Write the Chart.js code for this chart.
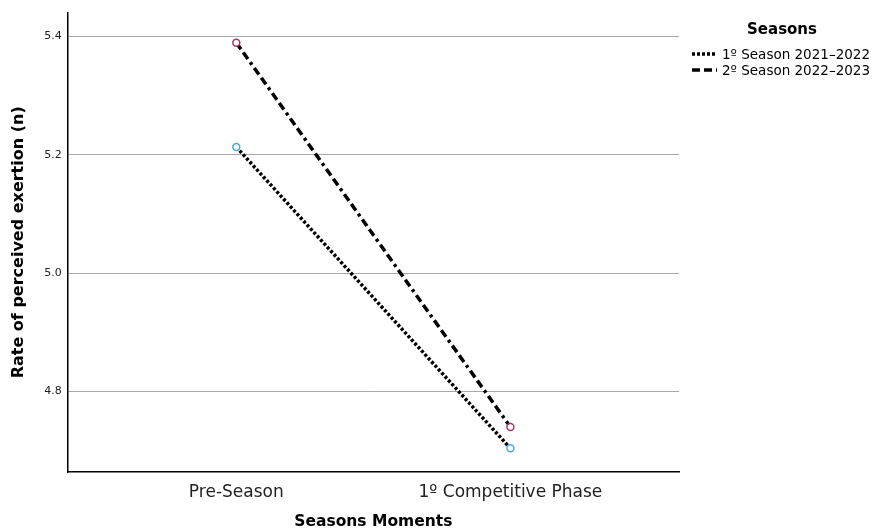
<!DOCTYPE html>
<html>
<head>
<meta charset="utf-8">
<script src="https://cdn.jsdelivr.net/npm/chart.js@4/dist/chart.umd.min.js"></script>
<style>
  html, body { margin: 0; padding: 0; background: #fff; }
  #wrap { width: 874px; height: 531px; position: relative; }
</style>
</head>
<body>
<div id="wrap"><canvas id="canvas_line_graph"></canvas></div>
<script>
var moments = ['Pre-Season', '1\u00ba Competitive Phase'];
var season1 = [5.213, 4.704];
var season2 = [5.389, 4.740];
var seasonNames = ['1\u00ba Season 2021\u20132022', '2\u00ba Season 2022\u20132023'];
var yTicks = [4.8, 5.0, 5.2, 5.4];
var legendTitle = 'Seasons';

var FONT = "'DejaVu Sans', sans-serif";

function toPoints(arr) {
    return arr.map(function (v, i) { return { x: i, y: v }; });
}

// legend drawn next to the plot, SPSS style (title + line samples)
var sideLegend = {
    id: 'sideLegend',
    afterDraw: function (chart) {
        var c = chart.ctx;
        var left = chart.chartArea.right + 13;
        c.save();
        c.fillStyle = '#000';
        c.textAlign = 'center';
        c.textBaseline = 'middle';
        c.font = 'bold 15px ' + FONT;
        c.fillText(legendTitle, 782, 30);
        c.textAlign = 'left';
        c.font = '13.5px ' + FONT;
        chart.data.datasets.forEach(function (ds, i) {
            var y = 54 + i * 16;
            c.strokeStyle = ds.borderColor;
            c.lineWidth = ds.borderWidth;
            c.setLineDash(ds.borderDash);
            c.beginPath();
            c.moveTo(left, y);
            c.lineTo(left + 25, y);
            c.stroke();
            c.setLineDash([]);
            c.fillText(ds.label, left + 30, y + 1);
        });
        c.restore();
    }
};

var ctx = document.getElementById('canvas_line_graph').getContext('2d');
var myChart = new Chart(ctx, {
    type: 'line',
    data: {
        datasets: [{
            label: seasonNames[0],
            data: toPoints(season1),
            borderColor: '#000',
            borderWidth: 3.5,
            borderDash: [3, 2],
            pointRadius: 3.5,
            pointBorderWidth: 1.5,
            pointBorderColor: '#4ba9e6',
            pointBackgroundColor: '#fff',
            fill: false
        }, {
            label: seasonNames[1],
            data: toPoints(season2),
            borderColor: '#000',
            borderWidth: 3.5,
            borderDash: [8, 4, 8, 4, 3, 4],
            pointRadius: 3.5,
            pointBorderWidth: 1.5,
            pointBorderColor: '#a8386a',
            pointBackgroundColor: '#fff',
            fill: false
        }]
    },
    options: {
        responsive: true,
        maintainAspectRatio: false,
        animation: false,
        layout: { padding: { top: 11, right: 195, bottom: 0, left: 9 } },
        plugins: {
            tooltip: { enabled: false },
            legend: { display: false }
        },
        scales: {
            x: {
                type: 'linear',
                min: -0.615,
                max: 1.615,
                afterBuildTicks: function (axis) {
                    axis.ticks = moments.map(function (m, i) { return { value: i }; });
                },
                ticks: {
                    color: '#222',
                    padding: 10,
                    maxRotation: 0,
                    font: { family: FONT, size: 17 },
                    callback: function (v) { return moments[v]; }
                },
                grid: { display: false, drawTicks: false },
                border: { display: true, color: '#000', width: 1.5 },
                title: {
                    display: true,
                    text: 'Seasons Moments',
                    color: '#000',
                    font: { family: FONT, size: 15.5, weight: 'bold' },
                    padding: { top: 0, bottom: 0 }
                }
            },
            y: {
                min: 4.664,
                max: 5.44,
                afterBuildTicks: function (axis) {
                    axis.ticks = yTicks.map(function (v) { return { value: v }; });
                },
                ticks: {
                    color: '#222',
                    padding: 6,
                    font: { family: FONT, size: 11 },
                    callback: function (v) { return v.toFixed(1); }
                },
                grid: { color: '#a8a8a8', lineWidth: 1, drawTicks: false },
                border: { display: true, color: '#000', width: 1.5 },
                title: {
                    display: true,
                    text: 'Rate of perceived exertion (n)',
                    color: '#000',
                    font: { family: FONT, size: 16, weight: 'bold' },
                    padding: { top: 0, bottom: 10 }
                }
            }
        }
    },
    plugins: [sideLegend]
});
</script>
</body>
</html>
